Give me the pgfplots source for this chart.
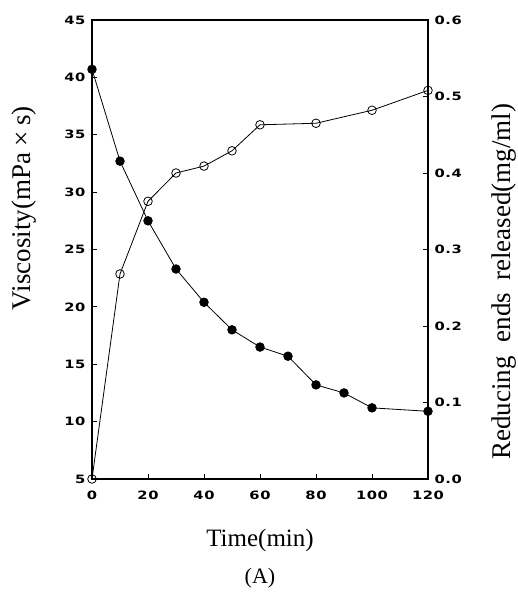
\documentclass[border=0pt]{standalone}
\usepackage{fontspec}
\usepackage{graphicx}
\setmainfont{Liberation Serif}
\newfontfamily\tickfont[LetterSpace=4]{DejaVu Sans}
\usepackage{pgfplots}
\pgfplotsset{compat=1.18}
\begin{document}
\begin{tikzpicture}[x=1pt,y=1pt]
\path[use as bounding box] (-92,-114) rectangle (426,479);
\begin{axis}[
  at={(0,0)}, anchor=south west,
  scale only axis, width=336pt, height=459pt,
  xmin=0, xmax=120, ymin=5, ymax=45,
  xtick={0,20,...,120}, ytick={5,10,...,45},
  xtick pos=bottom, ytick pos=left,
  tick align=inside, major tick length=5pt,
  axis line style={line width=1.1pt}, tick style={line width=0.8pt, black},
  tick label style={font=\tickfont\bfseries\fontsize{11.5}{13}\selectfont},
  xticklabel={\scalebox{1.28}[1]{\pgfmathprintnumber{\tick}}},
  yticklabel={\scalebox{1.28}[1]{\pgfmathprintnumber{\tick}}},
  xticklabel style={yshift=-8pt},
  yticklabel style={xshift=-3pt},
  /pgf/number format/assume math mode=true,
  xlabel={Time(min)},
  xlabel style={font=\fontsize{25}{28}\selectfont, at={(axis description cs:0.5,-0.133)}, anchor=center},
  ylabel={Viscosity(mPa\hspace{6pt}×\hspace{6pt}s)},
  ylabel style={font=\fontsize{27}{29}\selectfont, at={(axis description cs:-0.2024,0.59)}, anchor=center},
]
\addplot[black, line width=0.8pt, mark=*, mark size=4.3pt, mark options={fill=black}] coordinates {
(0,40.7) (10,32.7) (20,27.5) (30,23.3) (40,20.4) (50,18.0) (60,16.5) (70,15.7) (80,13.2) (90,12.5) (100,11.2) (120,10.9)
};
\end{axis}
\begin{axis}[
  at={(0,0)}, anchor=south west,
  scale only axis, width=336pt, height=459pt,
  xmin=0, xmax=120, ymin=0, ymax=0.6,
  axis x line=none, axis y line*=right,
  ytick={0,0.1,...,0.6},
  tick align=inside, major tick length=5pt,
  axis line style={line width=1.1pt, -}, tick style={line width=0.8pt, black},
  tick label style={font=\tickfont\bfseries\fontsize{11.5}{13}\selectfont},
  yticklabel={\scalebox{1.28}[1]{\pgfmathprintnumber[fixed,fixed zerofill,precision=1]{\tick}}},
  yticklabel style={xshift=3pt},
  /pgf/number format/assume math mode=true,
  ylabel={Reducing\hspace{14pt}ends\hspace{12pt}released(mg/ml)},
  ylabel style={font=\fontsize{27}{29}\selectfont, at={(axis description cs:1.226,0.43)}, anchor=center},
]
\addplot[black, line width=0.8pt, mark=o, mark size=4.3pt, mark options={fill=white}] coordinates {
(0,0.0) (10,0.268) (20,0.363) (30,0.400) (40,0.409) (50,0.429) (60,0.463) (80,0.465) (100,0.482) (120,0.508)
};
\end{axis}
\node[font=\fontsize{22}{26}\selectfont] at (168,-99) {(A)};
\end{tikzpicture}
\end{document}
